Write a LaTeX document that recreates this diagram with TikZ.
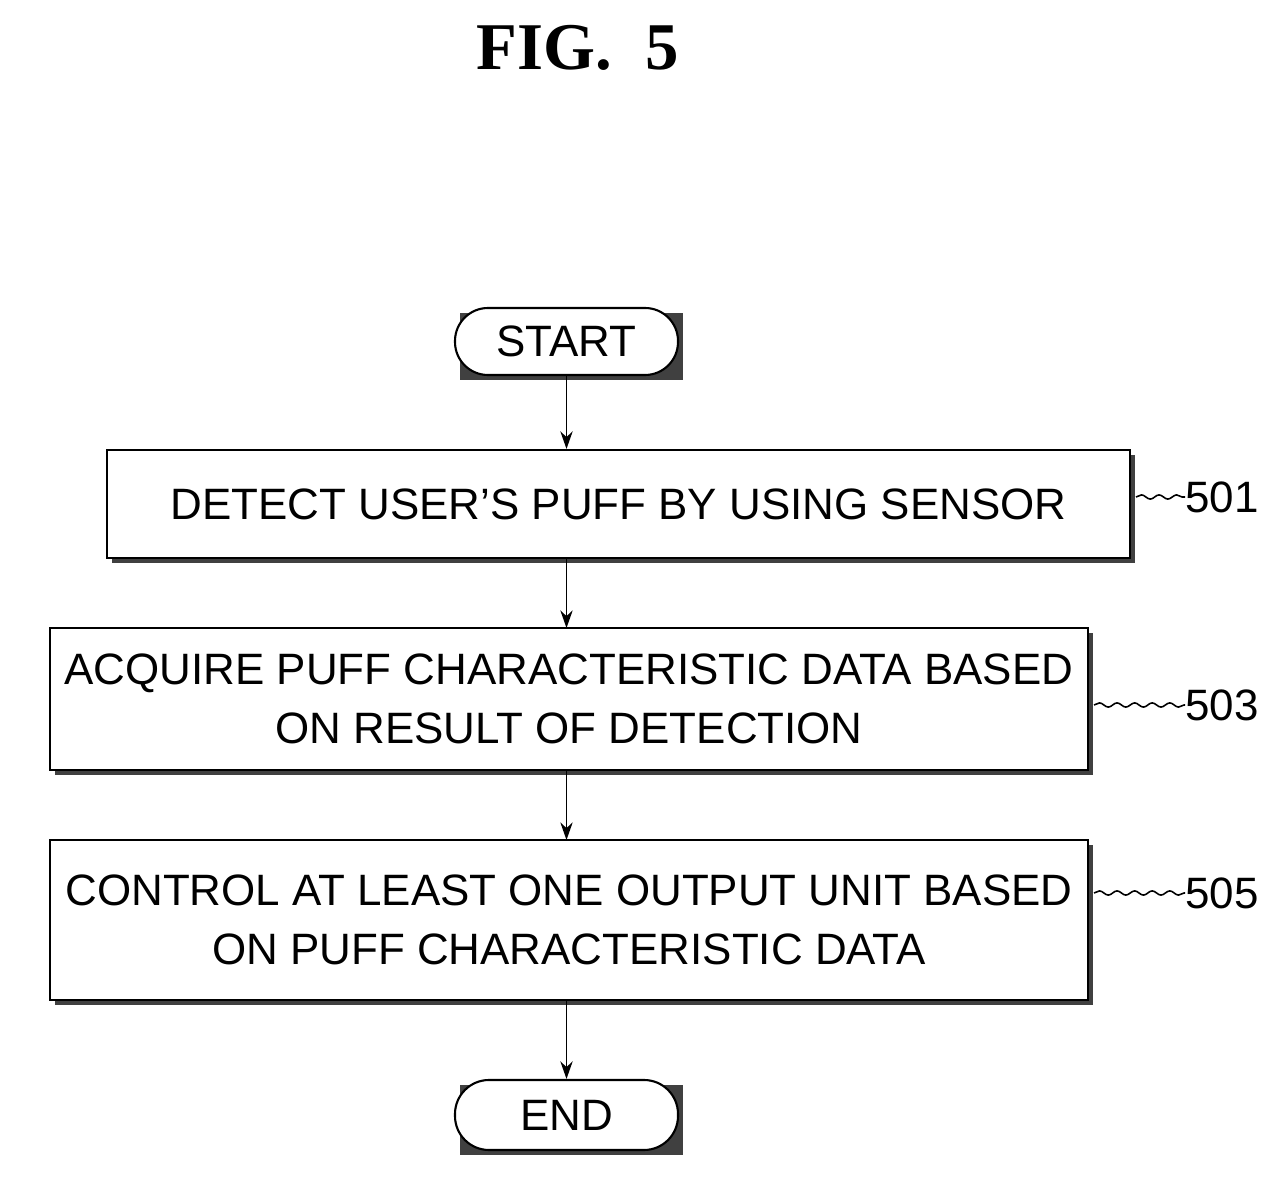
\documentclass[tikz,border=0pt]{standalone}
\usepackage{fontspec}
\setmainfont{Liberation Sans}
\newfontfamily\titlefont{Liberation Serif}
\usetikzlibrary{arrows.meta,decorations.pathmorphing}
\begin{document}
\begin{tikzpicture}[x=0.02cm,y=-0.02cm,
  box/.style={draw,line width=1.2pt,fill=white,align=center,inner sep=0pt,
    font=\fontsize{25}{34}\selectfont},
  term/.style={box,rounded corners=33\dimexpr0.02cm\relax},
  arr/.style={-{Stealth[length=10pt,width=7pt]},line width=1.1pt},
  lead/.style={line width=0.9pt,decorate,decoration={snake,amplitude=1.2pt,segment length=10pt}},
  lbl/.style={font=\fontsize{25}{30}\selectfont,anchor=west,inner sep=0pt}]
\useasboundingbox (0,0) rectangle (1279,1185);
\node[font=\titlefont\bfseries\fontsize{38}{40}\selectfont] (t) at (578,48) {FIG.\ \ 5};
% shadows
\foreach \a/\b/\c/\d in {455/308/678/375,107/450/1130/558,50/628/1088/770,50/840/1088/1000,455/1080/678/1150}{
  \fill[black!75] (\a+5,\b+5) rectangle (\c+5,\d+5);}
\node[term,minimum width=223*0.02cm,minimum height=67*0.02cm,rounded corners=0.66cm] (s) at (566.5,341.5) {START};
\node[box,minimum width=1023*0.02cm,minimum height=108*0.02cm] (b1) at (618.5,504) {DETECT USER'S PUFF BY USING SENSOR};
\node[box,minimum width=1038*0.02cm,minimum height=142*0.02cm] (b3) at (569,699) {ACQUIRE PUFF CHARACTERISTIC DATA BASED\\ON RESULT OF DETECTION};
\node[box,minimum width=1038*0.02cm,minimum height=160*0.02cm] (b5) at (569,920) {CONTROL AT LEAST ONE OUTPUT UNIT BASED\\ON PUFF CHARACTERISTIC DATA};
\node[term,minimum width=223*0.02cm,minimum height=70*0.02cm,rounded corners=0.68cm] (e) at (566.5,1115) {END};
\draw[arr] (s.south) -- (s.south|-b1.north);
\draw[arr] (566.5,558) -- (566.5,628);
\draw[arr] (566.5,770) -- (566.5,840);
\draw[arr] (566.5,1000) -- (e.north);
\node[lbl] (l1) at (1185,497) {501};
\node[lbl] (l3) at (1185,705) {503};
\node[lbl] (l5) at (1185,893) {505};
\coordinate (c1) at (1136,497); \coordinate (c3) at (1094,705); \coordinate (c5) at (1094,893);
\draw[lead] (c1) -- (l1.west);
\draw[lead] (c3) -- (l3.west);
\draw[lead] (c5) -- (l5.west);
\end{tikzpicture}
\end{document}
